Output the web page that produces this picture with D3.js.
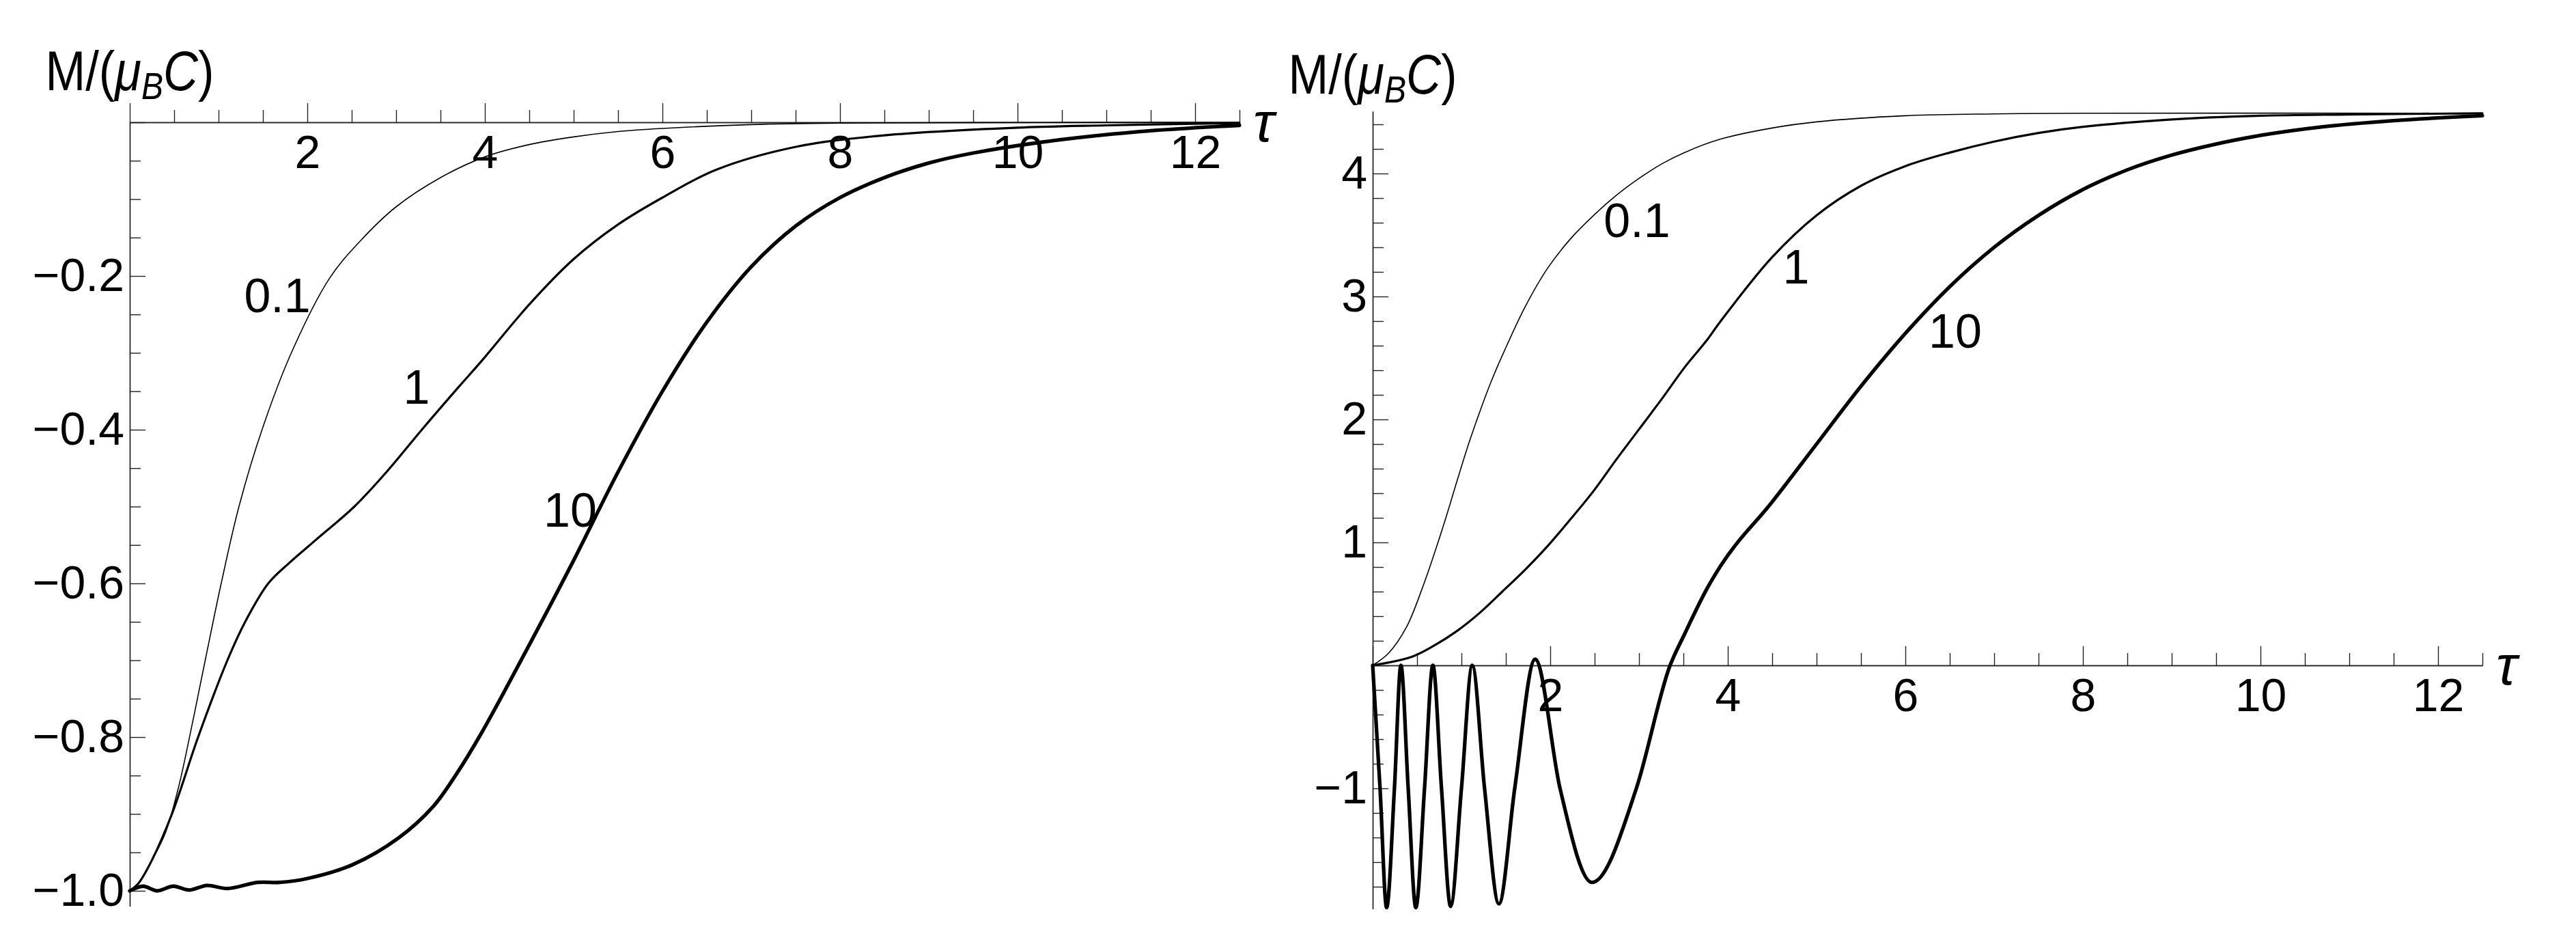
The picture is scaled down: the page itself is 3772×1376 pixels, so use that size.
<!DOCTYPE html>
<html><head><meta charset="utf-8">
<script src="https://cdn.jsdelivr.net/npm/d3@7"></script>
<style>body{margin:0;background:#fff}svg{display:block}</style>
</head><body>
<svg id="chart" width="3772" height="1376"></svg>
<script>
// ---------- data ----------
const seriesNames = ["0.1", "1", "10"];

// Left panel
const leftTau01 = [0, 0.1, 0.25, 0.4, 0.55, 0.7, 0.85, 1.03, 1.23, 1.49, 1.82, 2.25, 2.6, 3.0, 3.5, 4.0, 4.5, 5.0, 5.5, 6.0, 7.0, 8.0, 9.5, 12.5];
const leftM01   = [-1, -0.99, -0.96, -0.925, -0.865, -0.785, -0.7, -0.6, -0.5, -0.4, -0.3, -0.203, -0.154, -0.11, -0.072, -0.045, -0.029, -0.019, -0.012, -0.008, -0.003, -0.001, -0.0003, 0];

const leftTau1 = [0, 0.1, 0.25, 0.475, 0.77, 1.1, 1.3, 1.56, 1.8, 2.1, 2.53, 2.9, 3.29, 3.7, 3.96, 4.5, 5.0, 5.5, 6.0, 6.6, 7.5, 8.5, 10, 11, 12.5];
const leftM1   = [-1, -0.99, -0.96, -0.9, -0.8, -0.7, -0.65, -0.6, -0.573, -0.543, -0.5, -0.454, -0.4, -0.345, -0.311, -0.237, -0.178, -0.133, -0.098, -0.062, -0.032, -0.017, -0.007, -0.004, -0.001];

const leftTau10 = [0, 0.15, 0.31, 0.49, 0.67, 0.87, 1.1, 1.44, 1.69, 2.0, 2.51, 3.03, 3.42, 3.68, 3.96, 4.5, 5.0, 5.5, 6.0, 6.5, 7.0, 7.5, 8.0, 8.5, 9.0, 9.5, 10.46, 11.5, 12.5];
const leftM10   = [-1, -0.994, -1.0, -0.994, -0.999, -0.993, -0.997, -0.989, -0.989, -0.984, -0.966, -0.931, -0.89, -0.848, -0.795, -0.68, -0.57, -0.455, -0.35, -0.26, -0.188, -0.135, -0.098, -0.072, -0.053, -0.04, -0.023, -0.011, -0.004];

// Right panel
const rightTau01 = [0, 0.18, 0.38, 0.56, 0.69, 0.82, 0.95, 1.08, 1.21, 1.33, 1.46, 1.72, 1.97, 2.23, 2.49, 2.74, 3.0, 3.26, 3.51, 3.92, 4.5, 5.0, 6.0, 7.0, 8.0, 12.5];
const rightM01   = [0, 0.10, 0.31, 0.63, 0.90, 1.19, 1.50, 1.80, 2.07, 2.30, 2.52, 2.92, 3.23, 3.47, 3.66, 3.82, 3.96, 4.08, 4.17, 4.28, 4.37, 4.42, 4.47, 4.485, 4.49, 4.49];

const rightTau1 = [0, 0.44, 0.69, 0.95, 1.21, 1.46, 1.72, 1.97, 2.23, 2.49, 2.74, 3.0, 3.26, 3.51, 3.77, 3.92, 4.5, 5.0, 5.5, 6.0, 6.5, 7.0, 7.5, 8.0, 9.0, 10.0, 11.0, 12.5];
const rightM1   = [0, 0.07, 0.16, 0.28, 0.43, 0.60, 0.78, 0.97, 1.19, 1.42, 1.67, 1.92, 2.17, 2.42, 2.65, 2.80, 3.32, 3.66, 3.9, 4.06, 4.17, 4.26, 4.33, 4.38, 4.44, 4.47, 4.48, 4.49];

const rightTau10 = [0, 0.083, 0.157, 0.245, 0.318, 0.40, 0.486, 0.584, 0.678, 0.775, 0.878, 1.0, 1.122, 1.26, 1.422, 1.6, 1.83, 2.11, 2.47, 2.97, 3.35, 3.51, 3.77, 3.92, 4.5, 5.0, 5.5, 6.0, 6.5, 7.0, 7.5, 8.0, 8.5, 9.0, 9.5, 10.0, 10.7, 11.5, 12.5];
const rightM10   = [0, -1, -1.97, -1, 0, -1, -1.97, -1, 0, -1, -1.96, -1, 0, -1, -1.94, -1, 0.05, -1, -1.765, -1, 0, 0.25, 0.63, 0.81, 1.33, 1.8, 2.27, 2.7, 3.08, 3.4, 3.66, 3.87, 4.03, 4.15, 4.24, 4.31, 4.38, 4.43, 4.47];

// Curve label anchors (data coordinates)
const leftLabelTau  = [1.662, 3.231, 4.962];
const leftLabelM    = [-0.225, -0.344, -0.504];
const rightLabelTau = [2.977, 4.769, 6.562];
const rightLabelM   = [3.622, 3.244, 2.722];

// Ticks
const xMajorTicks = [0, 2, 4, 6, 8, 10, 12];
const leftYMajorTicks = [0, -0.2, -0.4, -0.6, -0.8, -1.0];
const rightYMajorTicks = [-1, 0, 1, 2, 3, 4];

// ---------- drawing ----------
const svg = d3.select("#chart");
svg.append("rect").attr("width", 3772).attr("height", 1376).attr("fill", "#fff");
const FONT = "'Liberation Sans', Arial, sans-serif";
const AXC = "#222";

function zip(t, m) { return t.map((d, i) => [d, m[i]]); }

function drawPanel(cfg) {
  const x = d3.scaleLinear().domain([0, 12.5]).range(cfg.xRange);
  const y = d3.scaleLinear().domain(cfg.yDomain).range(cfg.yRange);
  const g = svg.append("g");
  const x0 = x(0), y0 = y(0);

  // x axis (ticks point up, labels below)
  const xMinor = d3.range(0, 12.5001, 0.5).filter(v => !xMajorTicks.includes(v));
  const gx = g.append("g").attr("transform", `translate(0,${y0})`);
  gx.call(d3.axisBottom(x).tickValues(xMinor).tickSize(-18).tickSizeOuter(0).tickFormat(""));
  gx.append("g").call(d3.axisBottom(x).tickValues(xMajorTicks).tickSize(-28).tickSizeOuter(0).tickPadding(19)
    .tickFormat(v => v === 0 ? "" : d3.format("d")(v)));
  gx.selectAll(".domain").attr("stroke", AXC).attr("stroke-width", 1.4);
  gx.selectAll(".tick line").attr("stroke", AXC).attr("stroke-width", 1.4);
  gx.selectAll("text").attr("font-family", FONT).attr("font-size", 68).attr("fill", "#000");

  // y axis (ticks point right, labels left)
  const [ya, yb] = cfg.yDomain;
  const yMinor = d3.range(Math.ceil(ya / cfg.yMinorStep - 1e-6), Math.floor(yb / cfg.yMinorStep + 1e-6) + 1)
    .map(k => +(k * cfg.yMinorStep).toFixed(4))
    .filter(v => !cfg.yMajor.some(m => Math.abs(m - v) < 1e-6));
  const gy = g.append("g").attr("transform", `translate(${x0},0)`);
  gy.call(d3.axisLeft(y).tickValues(yMinor).tickSize(-16).tickSizeOuter(0).tickFormat(""));
  gy.append("g").call(d3.axisLeft(y).tickValues(cfg.yMajor).tickSize(-23).tickSizeOuter(0).tickPadding(8)
    .tickFormat(cfg.yFormat));
  gy.selectAll(".domain").attr("stroke", AXC).attr("stroke-width", 1.4);
  gy.selectAll(".tick line").attr("stroke", AXC).attr("stroke-width", 1.4);
  gy.selectAll("text").attr("font-family", FONT).attr("font-size", 68).attr("fill", "#000");

  // curves
  const widths = [1.6, 3.2, 5.3];
  cfg.series.forEach((s, i) => {
    const line = d3.line().x(d => x(d[0])).y(d => y(d[1])).curve(cfg.curves[i]);
    g.append("path").attr("d", line(s)).attr("fill", "none").attr("stroke", "#000")
      .attr("stroke-width", widths[i]).attr("stroke-linejoin", "round").attr("stroke-linecap", "round");
  });

  // curve labels
  seriesNames.forEach((name, i) => {
    g.append("text").attr("x", x(cfg.labelTau[i])).attr("y", y(cfg.labelM[i]))
      .attr("dy", "0.36em").attr("text-anchor", "middle")
      .attr("font-family", FONT).attr("font-size", 70).attr("fill", "#000").text(name);
  });

  // tau label
  g.append("text").attr("x", x(12.5) + 20).attr("y", y0 + 28)
    .attr("font-family", FONT).attr("font-size", 82).attr("font-style", "italic").attr("fill", "#000").text("τ");

  // vertical axis label M/(μ_B C)
  const lab = g.append("text").attr("text-anchor", "middle")
    .attr("transform", `translate(${x0},${cfg.labelBase}) scale(0.86,1)`)
    .attr("font-family", FONT).attr("font-size", 82).attr("fill", "#000");
  lab.append("tspan").text("M/(");
  lab.append("tspan").attr("font-style", "italic").text("μ");
  lab.append("tspan").attr("font-style", "italic").attr("font-size", 56).attr("dy", 13).text("B");
  lab.append("tspan").attr("font-style", "italic").attr("dy", -13).text("C");
  lab.append("tspan").text(")");
}

const smooth = d3.curveCatmullRom.alpha(0.5);

drawPanel({
  xRange: [190, 1815],
  yDomain: [-1.02, 0],
  yRange: [179 + 1125 * 1.02, 179],
  yMinorStep: 0.05,
  yMajor: leftYMajorTicks,
  yFormat: v => v === 0 ? "" : d3.format(".1f")(v),
  series: [zip(leftTau01, leftM01), zip(leftTau1, leftM1), zip(leftTau10, leftM10)],
  curves: [smooth, smooth, smooth],
  labelTau: leftLabelTau, labelM: leftLabelM,
  labelBase: 132
});

drawPanel({
  xRange: [2010, 3635],
  yDomain: [-1.98, 4.506],
  yRange: [974 + 180 * 1.98, 974 - 180 * 4.506],
  yMinorStep: 0.2,
  yMajor: rightYMajorTicks,
  yFormat: v => v === 0 ? "" : d3.format("d")(v),
  series: [zip(rightTau01, rightM01), zip(rightTau1, rightM1), zip(rightTau10, rightM10)],
  curves: [smooth, smooth, d3.curveMonotoneX],
  labelTau: rightLabelTau, labelM: rightLabelM,
  labelBase: 137
});
</script>
</body></html>
